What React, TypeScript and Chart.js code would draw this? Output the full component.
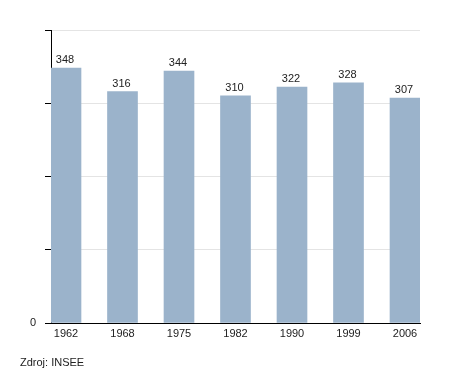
import React, { useEffect, useRef } from "react";
import { Chart, registerables } from "chart.js";

Chart.register(...registerables);

const years = ["1962", "1968", "1975", "1982", "1990", "1999", "2006"];
const population = [348, 316, 344, 310, 322, 328, 307];
const sourceText = "Zdroj: INSEE";

const FONT = "'Liberation Sans', Arial, sans-serif";

const valueLabels = {
  id: "valueLabels",
  afterDatasetsDraw(chart: any) {
    const ctx = chart.ctx;
    const meta = chart.getDatasetMeta(0);
    ctx.save();
    ctx.font = `11px ${FONT}`;
    ctx.fillStyle = "#222";
    ctx.textAlign = "center";
    ctx.textBaseline = "alphabetic";
    meta.data.forEach((bar: any, i: number) => {
      ctx.fillText(String(population[i]), bar.x - 1, bar.y - 5);
    });
    ctx.restore();
  },
};

export default function App() {
  const ref = useRef<HTMLCanvasElement | null>(null);
  useEffect(() => {
    if (!ref.current) return;
    const chart = new Chart(ref.current, {
      type: "bar",
      data: {
        datasets: [
          {
            data: population.map((v, i) => ({ x: i, y: v })),
            backgroundColor: "#9bb3cb",
            borderWidth: 0,
            barThickness: 30,
          },
        ],
      },
      options: {
        responsive: false,
        animation: false,
        layout: { padding: { top: 30, right: 30, left: 0, bottom: 0 } },
        plugins: {
          legend: { display: false },
          tooltip: { enabled: false },
        },
        scales: {
          x: {
            type: "linear",
            offset: false,
            min: -0.2655,
            max: 6.2655,
            grid: { display: false, drawTicks: false },
            border: { display: true, color: "#000", width: 1 },
            afterBuildTicks: (scale: any) => {
              scale.ticks = years.map((_, i) => ({ value: i }));
            },
            afterFit: (scale: any) => {
              scale.height = 50;
            },
            ticks: {
              autoSkip: false,
              maxRotation: 0,
              padding: 4,
              color: "#222",
              font: { family: FONT, size: 11 },
              callback: (v: any) => years[v] ?? "",
            },
          },
          y: {
            min: 0,
            max: 400,
            grid: {
              color: "#e4e4e4",
              tickColor: "#000",
              tickLength: 6,
              lineWidth: 1,
            },
            border: { display: true, color: "#000", width: 1 },
            afterFit: (scale: any) => {
              scale.width = 51;
            },
            ticks: {
              stepSize: 100,
              padding: 9,
              color: "#222",
              font: { family: FONT, size: 11 },
              callback: (v: any) => (v === 0 ? "0" : ""),
            },
          },
        },
      },
      plugins: [valueLabels],
    });
    return () => chart.destroy();
  }, []);

  return (
    <div style={{ position: "fixed", left: 0, top: 0, width: 450, height: 373, background: "#fff" }}>
      <canvas ref={ref} width={450} height={373} style={{ position: "absolute", left: 0, top: 0 }} />
      <div
        style={{
          position: "absolute",
          left: 20,
          top: 356,
          fontFamily: FONT,
          fontSize: 11,
          lineHeight: "13px",
          color: "#222",
          whiteSpace: "nowrap",
        }}
      >
        {sourceText}
      </div>
    </div>
  );
}
